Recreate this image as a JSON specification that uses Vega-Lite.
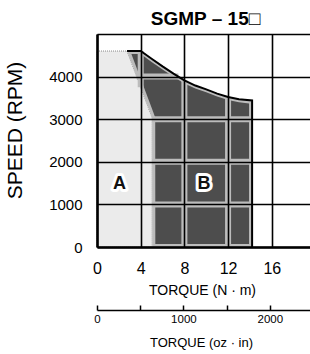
{
  "$schema": "https://vega.github.io/schema/vega-lite/v6.json",
  "autosize": {"type": "none"},
  "width": 213,
  "height": 213,
  "padding": {"left": 97, "top": 34, "right": 0, "bottom": 107},
  "background": "white",
  "config": {"font": "Liberation Sans", "view": {"stroke": null}},
  "title": {"text": "SGMP – 15□", "fontSize": 19, "fontWeight": "bold", "color": "#000", "anchor": "middle", "frame": "group", "offset": -2, "dx": 2},
  "datasets": {
    "zoneA": [
      {"torque": 0, "lo": 0, "hi": 4600},
      {"torque": 2.75, "lo": 0, "hi": 4600},
      {"torque": 5.05, "lo": 0, "hi": 3030}
    ],
    "zoneB": [
      {"torque": 2.75, "lo": 4600, "hi": 4600},
      {"torque": 4.0, "lo": 3747, "hi": 4600},
      {"torque": 5.0, "lo": 3064, "hi": 4420},
      {"torque": 5.05, "lo": 3030, "hi": 4410},
      {"torque": 5.06, "lo": 0, "hi": 4408},
      {"torque": 6, "lo": 0, "hi": 4240},
      {"torque": 7, "lo": 0, "hi": 4070},
      {"torque": 8, "lo": 0, "hi": 3910},
      {"torque": 9, "lo": 0, "hi": 3790},
      {"torque": 10, "lo": 0, "hi": 3700},
      {"torque": 11, "lo": 0, "hi": 3600},
      {"torque": 12, "lo": 0, "hi": 3520},
      {"torque": 13, "lo": 0, "hi": 3470},
      {"torque": 14.2, "lo": 0, "hi": 3440}
    ],
    "zoneBInner": [
      {"torque": 3.15, "lo": 4530, "hi": 4530},
      {"torque": 4.0, "lo": 3949, "hi": 4530},
      {"torque": 5.0, "lo": 3267, "hi": 4345},
      {"torque": 5.33, "lo": 3041, "hi": 4285},
      {"torque": 5.34, "lo": 70, "hi": 4283},
      {"torque": 6, "lo": 70, "hi": 4165},
      {"torque": 7, "lo": 70, "hi": 3995},
      {"torque": 8, "lo": 70, "hi": 3840},
      {"torque": 9, "lo": 70, "hi": 3720},
      {"torque": 10, "lo": 70, "hi": 3630},
      {"torque": 11, "lo": 70, "hi": 3530},
      {"torque": 12, "lo": 70, "hi": 3450},
      {"torque": 13, "lo": 70, "hi": 3400},
      {"torque": 13.92, "lo": 70, "hi": 3370}
    ],
    "cellLines": [
      {"t1": 4, "r1": 3750, "t2": 4, "r2": 4600},
      {"t1": 8, "r1": 0, "t2": 8, "r2": 3910},
      {"t1": 12, "r1": 0, "t2": 12, "r2": 3520},
      {"t1": 5.05, "r1": 1000, "t2": 14.2, "r2": 1000},
      {"t1": 5.05, "r1": 2000, "t2": 14.2, "r2": 2000},
      {"t1": 5.05, "r1": 3000, "t2": 14.2, "r2": 3000},
      {"t1": 3.63, "r1": 4000, "t2": 7.45, "r2": 4000}
    ],
    "edgeB": [
      {"torque": 2.75, "rpm": 4600, "k": 0},
      {"torque": 4.0, "rpm": 4600, "k": 1},
      {"torque": 5, "rpm": 4420, "k": 2},
      {"torque": 6, "rpm": 4240, "k": 3},
      {"torque": 7, "rpm": 4070, "k": 4},
      {"torque": 8, "rpm": 3910, "k": 5},
      {"torque": 9, "rpm": 3790, "k": 6},
      {"torque": 10, "rpm": 3700, "k": 7},
      {"torque": 11, "rpm": 3600, "k": 8},
      {"torque": 12, "rpm": 3520, "k": 9},
      {"torque": 13, "rpm": 3470, "k": 10},
      {"torque": 14.2, "rpm": 3440, "k": 11},
      {"torque": 14.2, "rpm": 0, "k": 12}
    ],
    "labels": [
      {"torque": 2.05, "rpm": 1480, "zone": "A"},
      {"torque": 9.8, "rpm": 1480, "zone": "B"}
    ],
    "ozTicks": [{"oz": 0}, {"oz": 2000}]
  },
  "layer": [
    {
      "layer": [
        {
          "data": {"name": "zoneA"},
          "mark": {"type": "area", "fill": "#ebebeb", "stroke": "#8a8a8a", "strokeWidth": 1, "strokeDash": [1, 1]},
          "encoding": {
            "x": {
              "field": "torque", "type": "quantitative",
              "scale": {"domain": [0, 19.5], "nice": false, "zero": false},
              "axis": {
                "values": [0, 4, 8, 12, 16], "grid": true, "gridColor": "black", "gridWidth": 1.6, "gridOpacity": 1,
                "domainColor": "black", "domainWidth": 2.5, "ticks": false, "labelFlush": false, "labelOverlap": false,
                "labelFontSize": 16, "labelColor": "black", "labelPadding": 13,
                "title": "TORQUE (N · m)", "titleFontSize": 14, "titleFontWeight": "normal", "titleColor": "black",
                "titleX": 105, "titleY": 43, "titleBaseline": "middle", "titleAlign": "center", "zindex": 1
              }
            },
            "y": {
              "field": "hi", "type": "quantitative",
              "scale": {"domain": [0, 5000], "nice": false},
              "axis": {
                "values": [0, 1000, 2000, 3000, 4000, 5000], "format": "d",
                "labelExpr": "datum.value == 5000 ? '' : datum.label",
                "grid": true, "gridColor": "black", "gridWidth": 1.6, "gridOpacity": 1,
                "domainColor": "black", "domainWidth": 2.5, "ticks": false, "labelFlush": false, "labelOverlap": false,
                "labelFontSize": 15, "labelColor": "black", "labelPadding": 15,
                "title": "SPEED (RPM)", "titleFontSize": 21, "titleFontWeight": "normal", "titleColor": "black",
                "titleX": -82, "titleY": 96, "titleAngle": -90, "titleBaseline": "middle", "titleAlign": "center", "zindex": 1
              }
            },
            "y2": {"field": "lo"}
          }
        },
        {
          "data": {"name": "zoneB"},
          "mark": {"type": "area", "fill": "#bcbcbc"},
          "encoding": {
            "x": {"field": "torque", "type": "quantitative"},
            "y": {"field": "hi", "type": "quantitative"},
            "y2": {"field": "lo"}
          }
        },
        {
          "data": {"name": "zoneBInner"},
          "mark": {"type": "area", "fill": "#4d4d4d"},
          "encoding": {
            "x": {"field": "torque", "type": "quantitative"},
            "y": {"field": "hi", "type": "quantitative"},
            "y2": {"field": "lo"}
          }
        },
        {
          "data": {"name": "cellLines"},
          "mark": {"type": "rule", "color": "#bcbcbc", "strokeWidth": 6},
          "encoding": {
            "x": {"field": "t1", "type": "quantitative"},
            "x2": {"field": "t2"},
            "y": {"field": "r1", "type": "quantitative"},
            "y2": {"field": "r2"}
          }
        },
        {
          "data": {"name": "edgeB"},
          "mark": {"type": "line", "color": "black", "strokeWidth": 2},
          "encoding": {
            "x": {"field": "torque", "type": "quantitative"},
            "y": {"field": "rpm", "type": "quantitative"},
            "order": {"field": "k", "type": "quantitative"}
          }
        },
        {
          "data": {"name": "labels"},
          "mark": {"type": "text", "fontSize": 18, "fontWeight": "bold", "fill": "white", "stroke": "white", "strokeWidth": 6, "strokeJoin": "round"},
          "encoding": {
            "x": {"field": "torque", "type": "quantitative"},
            "y": {"field": "rpm", "type": "quantitative"},
            "text": {"field": "zone"}
          }
        },
        {
          "data": {"name": "labels"},
          "mark": {"type": "text", "fontSize": 18, "fontWeight": "bold", "fill": "#111"},
          "encoding": {
            "x": {"field": "torque", "type": "quantitative"},
            "y": {"field": "rpm", "type": "quantitative"},
            "text": {"field": "zone"}
          }
        }
      ]
    },
    {
      "data": {"name": "ozTicks"},
      "mark": {"type": "rule", "opacity": 0},
      "encoding": {
        "x": {
          "field": "oz", "type": "quantitative",
          "scale": {"domain": [0, 2465], "nice": false},
          "axis": {
            "orient": "bottom", "offset": 63, "values": [0, 500, 1000, 1500, 2000], "format": "d",
            "labelExpr": "datum.value % 1000 == 0 ? datum.label : ''",
            "grid": false, "domainColor": "black", "domainWidth": 1.5,
            "tickColor": "black", "tickWidth": 1.5, "tickSize": -5,
            "labelFlush": false, "labelOverlap": false, "labelFontSize": 11.5, "labelColor": "black", "labelPadding": 8,
            "title": "TORQUE (oz · in)", "titleFontSize": 13, "titleFontWeight": "normal", "titleColor": "black",
            "titleX": 104, "titleY": 32, "titleBaseline": "middle", "titleAlign": "center"
          }
        }
      }
    }
  ],
  "resolve": {"scale": {"x": "independent"}, "axis": {"x": "independent"}}
}
